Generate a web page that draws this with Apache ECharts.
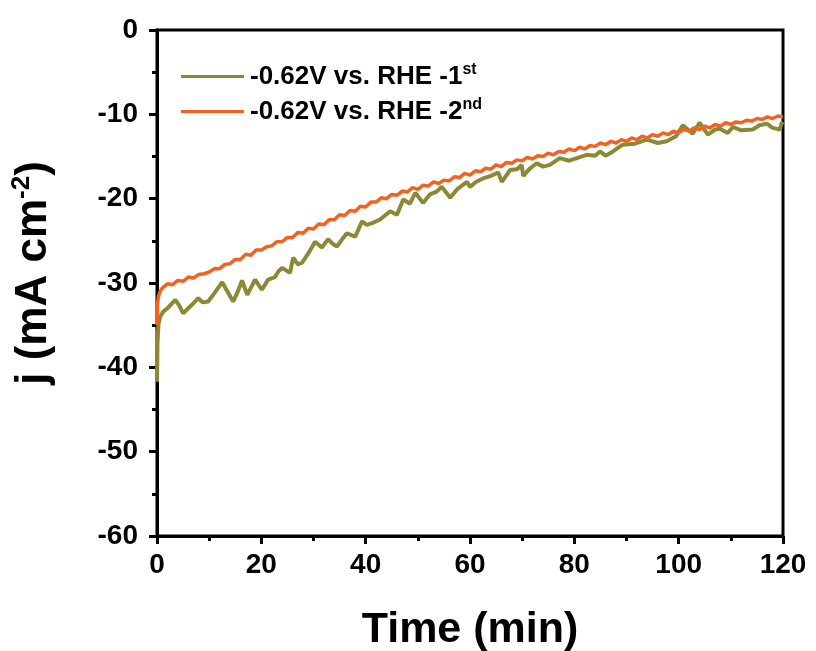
<!DOCTYPE html>
<html>
<head>
<meta charset="utf-8">
<script src="https://cdn.jsdelivr.net/npm/echarts@6/dist/echarts.min.js"></script>
<style>
html, body { margin: 0; padding: 0; background: #fff; }
#main { width: 816px; height: 651px; }
</style>
</head>
<body>
<div id="main"></div>
<script>
// time (min) and current density (mA cm-2)
var time1 = [0, 0.1, 0.3, 0.6, 1.2, 2, 3.5, 4.2, 5, 6, 7, 7.9, 8.8, 9.8, 11, 12.5, 13.5, 14.6, 15.5, 16.3, 17.3, 18.8, 20.1, 21.3, 22.6, 23.3, 24, 25.5, 26.1, 27, 27.8, 29, 30.3, 31.6, 32.8, 33.6, 34.5, 35.5, 36.4, 38, 39.3, 40.2, 41.2, 42.7, 44.7, 46, 47.2, 48.5, 49.5, 51, 52.3, 53.5, 54.6, 56.2, 57.5, 59.4, 60, 61.2, 62.5, 64, 65.4, 66.1, 67.7, 69, 69.9, 70.2, 71.5, 72.8, 74, 75.3, 77.2, 79, 80.5, 82.4, 84, 84.9, 86, 87.4, 89.3, 91.5, 93.9, 96, 97.7, 99.5, 100.8, 102.7, 104, 105.6, 107, 107.9, 109.4, 110.4, 112, 114.2, 115.5, 116.9, 118, 119.4, 119.7, 120];
var j1 = [-41.7, -37, -34.8, -34.0, -33.4, -33.0, -32.0, -32.6, -33.6, -33.0, -32.4, -31.8, -32.3, -32.2, -31.2, -29.9, -31.0, -32.2, -31.0, -29.7, -31.4, -29.6, -30.8, -29.6, -29.3, -28.6, -28.2, -28.8, -27.0, -27.8, -27.6, -26.5, -25.1, -25.8, -24.8, -25.3, -25.7, -24.8, -24.1, -24.5, -22.7, -23.1, -22.9, -22.5, -21.5, -21.9, -20.1, -20.6, -19.3, -20.5, -19.5, -19.2, -18.6, -19.9, -18.9, -18.0, -18.6, -18.0, -17.6, -17.3, -16.9, -18.0, -16.6, -16.5, -16.0, -17.3, -16.4, -15.8, -16.2, -16.0, -15.2, -15.5, -15.2, -14.8, -14.9, -14.4, -14.9, -14.4, -13.6, -13.5, -13.0, -13.4, -13.2, -12.6, -11.3, -12.3, -11.0, -12.4, -11.8, -11.7, -12.2, -11.5, -11.9, -11.8, -11.3, -11.1, -11.6, -11.8, -11.1, -10.9];

var time2 = [0, 0.1, 0.3, 0.6, 1, 2, 3, 4, 5, 6, 7, 8, 9, 10, 11, 12, 13, 14, 15, 16, 17, 18, 19, 20, 21, 22, 23, 24, 25, 26, 27, 28, 29, 30, 31, 32, 33, 34, 35, 36, 37, 38, 39, 40, 41, 42, 43, 44, 45, 46, 47, 48, 49, 50, 51, 52, 53, 54, 55, 56, 57, 58, 59, 60, 61, 62, 63, 64, 65, 66, 67, 68, 69, 70, 71, 72, 73, 74, 75, 76, 77, 78, 79, 80, 81, 82, 83, 84, 85, 86, 87, 88, 89, 90, 91, 92, 93, 94, 95, 96, 97, 98, 99, 100, 101, 102, 103, 104, 105, 106, 107, 108, 109, 110, 111, 112, 113, 114, 115, 116, 117, 118, 119, 120];
var j2 = [-35.0, -32.5, -31.5, -31.0, -30.6, -30.1, -30.2, -29.7, -29.8, -29.3, -29.4, -29.0, -28.9, -28.7, -28.3, -28.3, -27.8, -27.7, -27.2, -27.2, -26.6, -26.7, -26.1, -26.1, -25.7, -25.6, -25.1, -25.1, -24.6, -24.6, -24.0, -24.1, -23.5, -23.6, -23.0, -23.1, -22.5, -22.5, -21.9, -22.0, -21.4, -21.5, -20.9, -21.0, -20.4, -20.4, -19.9, -20.0, -19.5, -19.6, -19.1, -19.2, -18.7, -18.9, -18.4, -18.5, -18.0, -18.2, -17.8, -17.9, -17.4, -17.5, -17.0, -17.2, -16.7, -16.8, -16.4, -16.5, -16.0, -16.2, -15.7, -15.8, -15.4, -15.5, -15.1, -15.3, -14.9, -15.0, -14.6, -14.8, -14.4, -14.5, -14.1, -14.3, -13.9, -14.1, -13.7, -13.8, -13.4, -13.6, -13.2, -13.4, -13.0, -13.2, -12.8, -13.0, -12.6, -12.8, -12.4, -12.6, -12.2, -12.4, -12.0, -12.2, -11.8, -12.0, -11.6, -11.8, -11.4, -11.6, -11.2, -11.4, -11.0, -11.2, -10.9, -11.0, -10.7, -10.8, -10.5, -10.6, -10.3, -10.5, -10.2, -10.3];

var seriesNames = ['-0.62V vs. RHE -1st', '-0.62V vs. RHE -2nd'];
var xTicks = [0, 20, 40, 60, 80, 100, 120];
var yTicks = [0, -10, -20, -30, -40, -50, -60];

function pairs(t, v) {
    return t.map(function (x, i) { return [x, v[i]]; });
}

var font = 'Arial, "Liberation Sans", sans-serif';
var chart = echarts.init(document.getElementById('main'));

var option = {
    backgroundColor: '#fff',
    animation: false,
    grid: {
        left: 157, top: 30, right: 33, bottom: 115,
        outerBoundsMode: 'none',
        containLabel: false,
        show: true, borderColor: '#000', borderWidth: 3
    },
    legend: {
        orient: 'vertical',
        left: 176, top: 57,
        icon: 'rect',
        itemWidth: 63, itemHeight: 3,
        itemGap: 6,
        data: seriesNames,
        formatter: function (name) {
            return name.replace(/-(\d)(st|nd)$/, '-$1{sup|$2}');
        },
        textStyle: {
            fontFamily: font, fontWeight: 'bold', fontSize: 26, color: '#000',
            lineHeight: 29,
            padding: [0, 0, 0, 1],
            rich: {
                sup: { fontFamily: font, fontWeight: 'bold', fontSize: 16, verticalAlign: 'top', lineHeight: 29, padding: [0, 0, 12, 0] }
            }
        }
    },
    xAxis: {
        type: 'value',
        min: 0, max: 120, interval: 20,
        name: 'Time (min)',
        nameLocation: 'middle',
        nameGap: 73,
        nameTextStyle: { fontFamily: font, fontWeight: 'bold', fontSize: 43, color: '#000' },
        axisLine: { onZero: false, lineStyle: { color: '#000', width: 3 } },
        axisTick: { inside: false, length: 8, lineStyle: { width: 3, color: '#000' } },
        minorTick: { show: true, splitNumber: 2, length: 5, lineStyle: { width: 3, color: '#000' } },
        axisLabel: {
            margin: 15, fontFamily: font, fontWeight: 'bold', fontSize: 28, color: '#000',
            formatter: function (v) { return xTicks.indexOf(v) >= 0 ? String(v) : ''; }
        },
        splitLine: { show: false }
    },
    yAxis: {
        type: 'value',
        min: -60, max: 0, interval: 10,
        name: 'j (mA cm{sup|-2})',
        nameLocation: 'middle',
        nameGap: 98,
        nameTextStyle: {
            fontFamily: font, fontWeight: 'bold', fontSize: 44, color: '#000',
            padding: [0, 0, 0, 20],
            rich: {
                sup: { fontFamily: font, fontWeight: 'bold', fontSize: 26, verticalAlign: 'top', padding: [0, 0, 24, 0], color: '#000' }
            }
        },
        axisLine: { onZero: false, lineStyle: { color: '#000', width: 3 } },
        axisTick: { inside: false, length: 8, lineStyle: { width: 3, color: '#000' } },
        minorTick: { show: true, splitNumber: 2, length: 5, lineStyle: { width: 3, color: '#000' } },
        axisLabel: {
            margin: 19, fontFamily: font, fontWeight: 'bold', fontSize: 28, color: '#000',
            formatter: function (v) { return yTicks.indexOf(v) >= 0 ? String(v) : ''; }
        },
        splitLine: { show: false }
    },
    series: [
        {
            name: seriesNames[0],
            type: 'line',
            showSymbol: false,
            data: pairs(time1, j1),
            color: '#8a8a36',
            lineStyle: { width: 4, color: '#8a8a36' }
        },
        {
            name: seriesNames[1],
            type: 'line',
            showSymbol: false,
            data: pairs(time2, j2),
            color: '#f4621f',
            lineStyle: { width: 3.5, color: '#f4621f' }
        }
    ]
};

chart.setOption(option);
</script>
</body>
</html>
